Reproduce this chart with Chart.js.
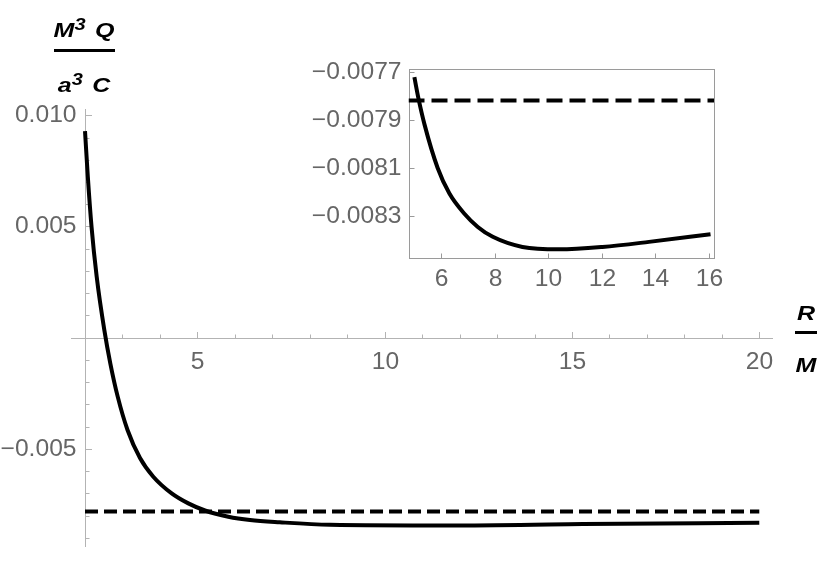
<!DOCTYPE html>
<html>
<head>
<meta charset="utf-8">
<script src="https://cdn.jsdelivr.net/npm/chart.js@4/dist/chart.umd.min.js"></script>
<style>
  html, body { margin: 0; padding: 0; background: #fff; }
  #wrap { position: relative; width: 830px; height: 564px; }
  #main { position: absolute; left: 0; top: 0; }
  #inset { position: absolute; left: 300px; top: 50px; }
  .lbl {
    position: absolute;
    font-family: "Liberation Sans", Arial, sans-serif;
    font-weight: bold; font-style: italic;
    font-size: 20px; line-height: 20px;
    color: #000; white-space: nowrap;
    transform: translateX(-50%) scaleX(1.25);
  }
  .lbl .sup { position: relative; top: -0.45em; font-size: 0.8em; margin-right: 2px; }
  .bar { position: absolute; background: #000; height: 3px; }
</style>
</head>
<body>
<div id="wrap">
  <canvas id="main" width="830" height="564"></canvas>
  <canvas id="inset" width="440" height="250"></canvas>

  <div class="lbl" style="left:84px; top:20px;">M<span class="sup">3</span> Q</div>
  <div class="bar" style="left:54px; top:49px; width:61px;"></div>
  <div class="lbl" style="left:84px; top:75px;">a<span class="sup">3</span> C</div>

  <div class="lbl" style="left:806px; top:303px;">R</div>
  <div class="bar" style="left:795px; top:331px; width:22px;"></div>
  <div class="lbl" style="left:806px; top:355px;">M</div>
</div>

<script>
// main plot: R/M against M^3 Q / (a^3 C)
const mainR = [2.000, 2.075, 2.174, 2.312, 2.515, 2.675, 2.873, 3.135, 3.468, 3.823, 4.314, 4.758,
  5.203, 5.825, 6.405, 7.20, 8.54, 11.74, 15.29, 20.0];
const mainQ = [0.00929, 0.00724, 0.00499, 0.00274, 0.00035, -0.00115, -0.00265, -0.00415, -0.00541, -0.00625, -0.00700, -0.00745,
  -0.00777, -0.00805, -0.00820, -0.00830, -0.00841, -0.00844, -0.00838, -0.00832];

// inset: same curve, zoomed on R/M = 5..16
const insetR = [5.00, 5.15, 5.38, 5.87, 6.31, 6.87, 7.37, 7.93, 9.04, 10.41, 12.03, 13.77, 16.07];
const insetQ = [-0.007723, -0.00781, -0.00792, -0.00810, -0.008206, -0.00829, -0.008345, -0.008386,
  -0.008428, -0.008438, -0.008428, -0.008407, -0.008375];

const asymptote = -0.00782;

// main axes ticks
const mainXTicks = [5, 10, 15, 20];
const mainXLabels = ['5', '10', '15', '20'];
const mainXMinor = [3, 4, 6, 7, 8, 9, 11, 12, 13, 14, 16, 17, 18, 19];
const mainYTicks = [0.010, 0.005, -0.005];
const mainYLabels = ['0.010', '0.005', '\u22120.005'];
const mainYMinor = [0.009, 0.008, 0.007, 0.006, 0.004, 0.003, 0.002, 0.001,
  -0.001, -0.002, -0.003, -0.004, -0.006, -0.007, -0.008, -0.009];

// inset ticks
const insetXTicks = [6, 8, 10, 12, 14, 16];
const insetXLabels = ['6', '8', '10', '12', '14', '16'];
const insetYTicks = [-0.0077, -0.0079, -0.0081, -0.0083];
const insetYLabels = ['\u22120.0077', '\u22120.0079', '\u22120.0081', '\u22120.0083'];

const FONT = '23px "Liberation Sans", Arial, sans-serif';
const LABEL = '#666666';

const toPoints = (xs, ys) => xs.map((x, i) => ({ x: x, y: ys[i] }));

// tick label text is a touch wider than plain Arial in the picture
function text(ctx, s, x, y, align, baseline) {
  ctx.save();
  ctx.translate(x, y);
  ctx.scale(1.07, 1);
  ctx.textAlign = align;
  ctx.textBaseline = baseline;
  ctx.fillText(s, 0, 0);
  ctx.restore();
}

// Mathematica-like axes: ticks on the inner side, labels outside
const mmaAxes = {
  id: 'mmaAxes',
  beforeDatasetsDraw(chart, args, o) {
    const { ctx, chartArea: a } = chart;
    const sx = chart.scales.x, sy = chart.scales.y;
    ctx.save();
    ctx.lineWidth = 1;
    ctx.font = FONT;
    ctx.fillStyle = LABEL;

    if (o.frame) {
      ctx.strokeStyle = '#9a9a9a';
      ctx.strokeRect(Math.round(a.left) + 0.5, Math.round(a.top) + 0.5,
        Math.round(a.width) - 1, Math.round(a.height) - 1);
      const bottom = Math.round(a.bottom) - 0.5, left = Math.round(a.left) + 0.5;
      o.xTicks.forEach((v, i) => {
        const px = Math.round(sx.getPixelForValue(v)) + 0.5;
        ctx.beginPath(); ctx.moveTo(px, bottom); ctx.lineTo(px, bottom - 5); ctx.stroke();
        text(ctx, o.xLabels[i], px, bottom + 27, 'center', 'alphabetic');
      });
      o.yTicks.forEach((v, i) => {
        const py = Math.round(sy.getPixelForValue(v)) + 0.5;
        ctx.beginPath(); ctx.moveTo(left, py); ctx.lineTo(left + 5, py); ctx.stroke();
        text(ctx, o.yLabels[i], left - 8, py, 'right', 'middle');
      });
    } else {
      ctx.strokeStyle = '#b3b3b3';
      const y0 = Math.round(sy.getPixelForValue(0)) + 0.5;
      const x0 = Math.round(sx.getPixelForValue(o.yAxisAt)) + 0.5;
      ctx.beginPath();
      ctx.moveTo(a.left, y0); ctx.lineTo(a.right, y0);
      ctx.moveTo(x0, a.top); ctx.lineTo(x0, a.bottom);
      ctx.stroke();
      const tickX = (v, len) => {
        const px = Math.round(sx.getPixelForValue(v)) + 0.5;
        ctx.beginPath(); ctx.moveTo(px, y0); ctx.lineTo(px, y0 - len); ctx.stroke();
        return px;
      };
      const tickY = (v, len) => {
        const py = Math.round(sy.getPixelForValue(v)) + 0.5;
        ctx.beginPath(); ctx.moveTo(x0, py); ctx.lineTo(x0 + len, py); ctx.stroke();
        return py;
      };
      o.xMinor.forEach(v => tickX(v, 4));
      o.yMinor.forEach(v => tickY(v, 4));
      o.xTicks.forEach((v, i) => {
        const px = tickX(v, 6.5);
        text(ctx, o.xLabels[i], px, y0 + 30, 'center', 'alphabetic');
      });
      o.yTicks.forEach((v, i) => {
        const py = tickY(v, 6.5);
        text(ctx, o.yLabels[i], x0 - 9, py, 'right', 'middle');
      });
    }
    ctx.restore();
  }
};

const curveStyle = {
  borderColor: '#000', borderWidth: 4, pointRadius: 0,
  cubicInterpolationMode: 'monotone', fill: false
};
const dashStyle = {
  borderColor: '#000', borderWidth: 4, pointRadius: 0,
  borderDash: [13, 6], borderCapStyle: 'butt', fill: false
};

new Chart(document.getElementById('main'), {
  type: 'line',
  data: {
    datasets: [
      Object.assign({ label: 'dashed', data: [{ x: mainR[0], y: asymptote }, { x: mainR[mainR.length - 1], y: asymptote }] }, dashStyle),
      Object.assign({ label: 'Q', data: toPoints(mainR, mainQ) }, curveStyle)
    ]
  },
  options: {
    responsive: false,
    animation: false,
    devicePixelRatio: 1,
    layout: { padding: { left: 71, right: 57, top: 109, bottom: 17 } },
    plugins: {
      legend: { display: false },
      tooltip: { enabled: false },
      mmaAxes: {
        yAxisAt: 2,
        xTicks: mainXTicks, xLabels: mainXLabels, xMinor: mainXMinor,
        yTicks: mainYTicks, yLabels: mainYLabels, yMinor: mainYMinor
      }
    },
    scales: {
      x: { type: 'linear', min: 1.626, max: 20.366, display: false },
      y: { type: 'linear', min: -0.009411, max: 0.010283, display: false }
    }
  },
  plugins: [mmaAxes]
});

new Chart(document.getElementById('inset'), {
  type: 'line',
  data: {
    datasets: [
      Object.assign({ label: 'dashed', data: [{ x: 4.78, y: asymptote }, { x: 16.2, y: asymptote }] }, dashStyle, { borderDash: [16, 7] }),
      Object.assign({ label: 'Q', data: toPoints(insetR, insetQ) }, curveStyle)
    ]
  },
  options: {
    responsive: false,
    animation: false,
    devicePixelRatio: 1,
    layout: { padding: { left: 108.5, right: 26, top: 19, bottom: 41.5 } },
    plugins: {
      legend: { display: false },
      tooltip: { enabled: false },
      mmaAxes: {
        frame: true,
        xTicks: insetXTicks, xLabels: insetXLabels,
        yTicks: insetYTicks, yLabels: insetYLabels
      }
    },
    scales: {
      x: { type: 'linear', min: 4.78, max: 16.2, display: false },
      y: { type: 'linear', min: -0.008476, max: -0.007689, display: false }
    }
  },
  plugins: [mmaAxes]
});
</script>
</body>
</html>
